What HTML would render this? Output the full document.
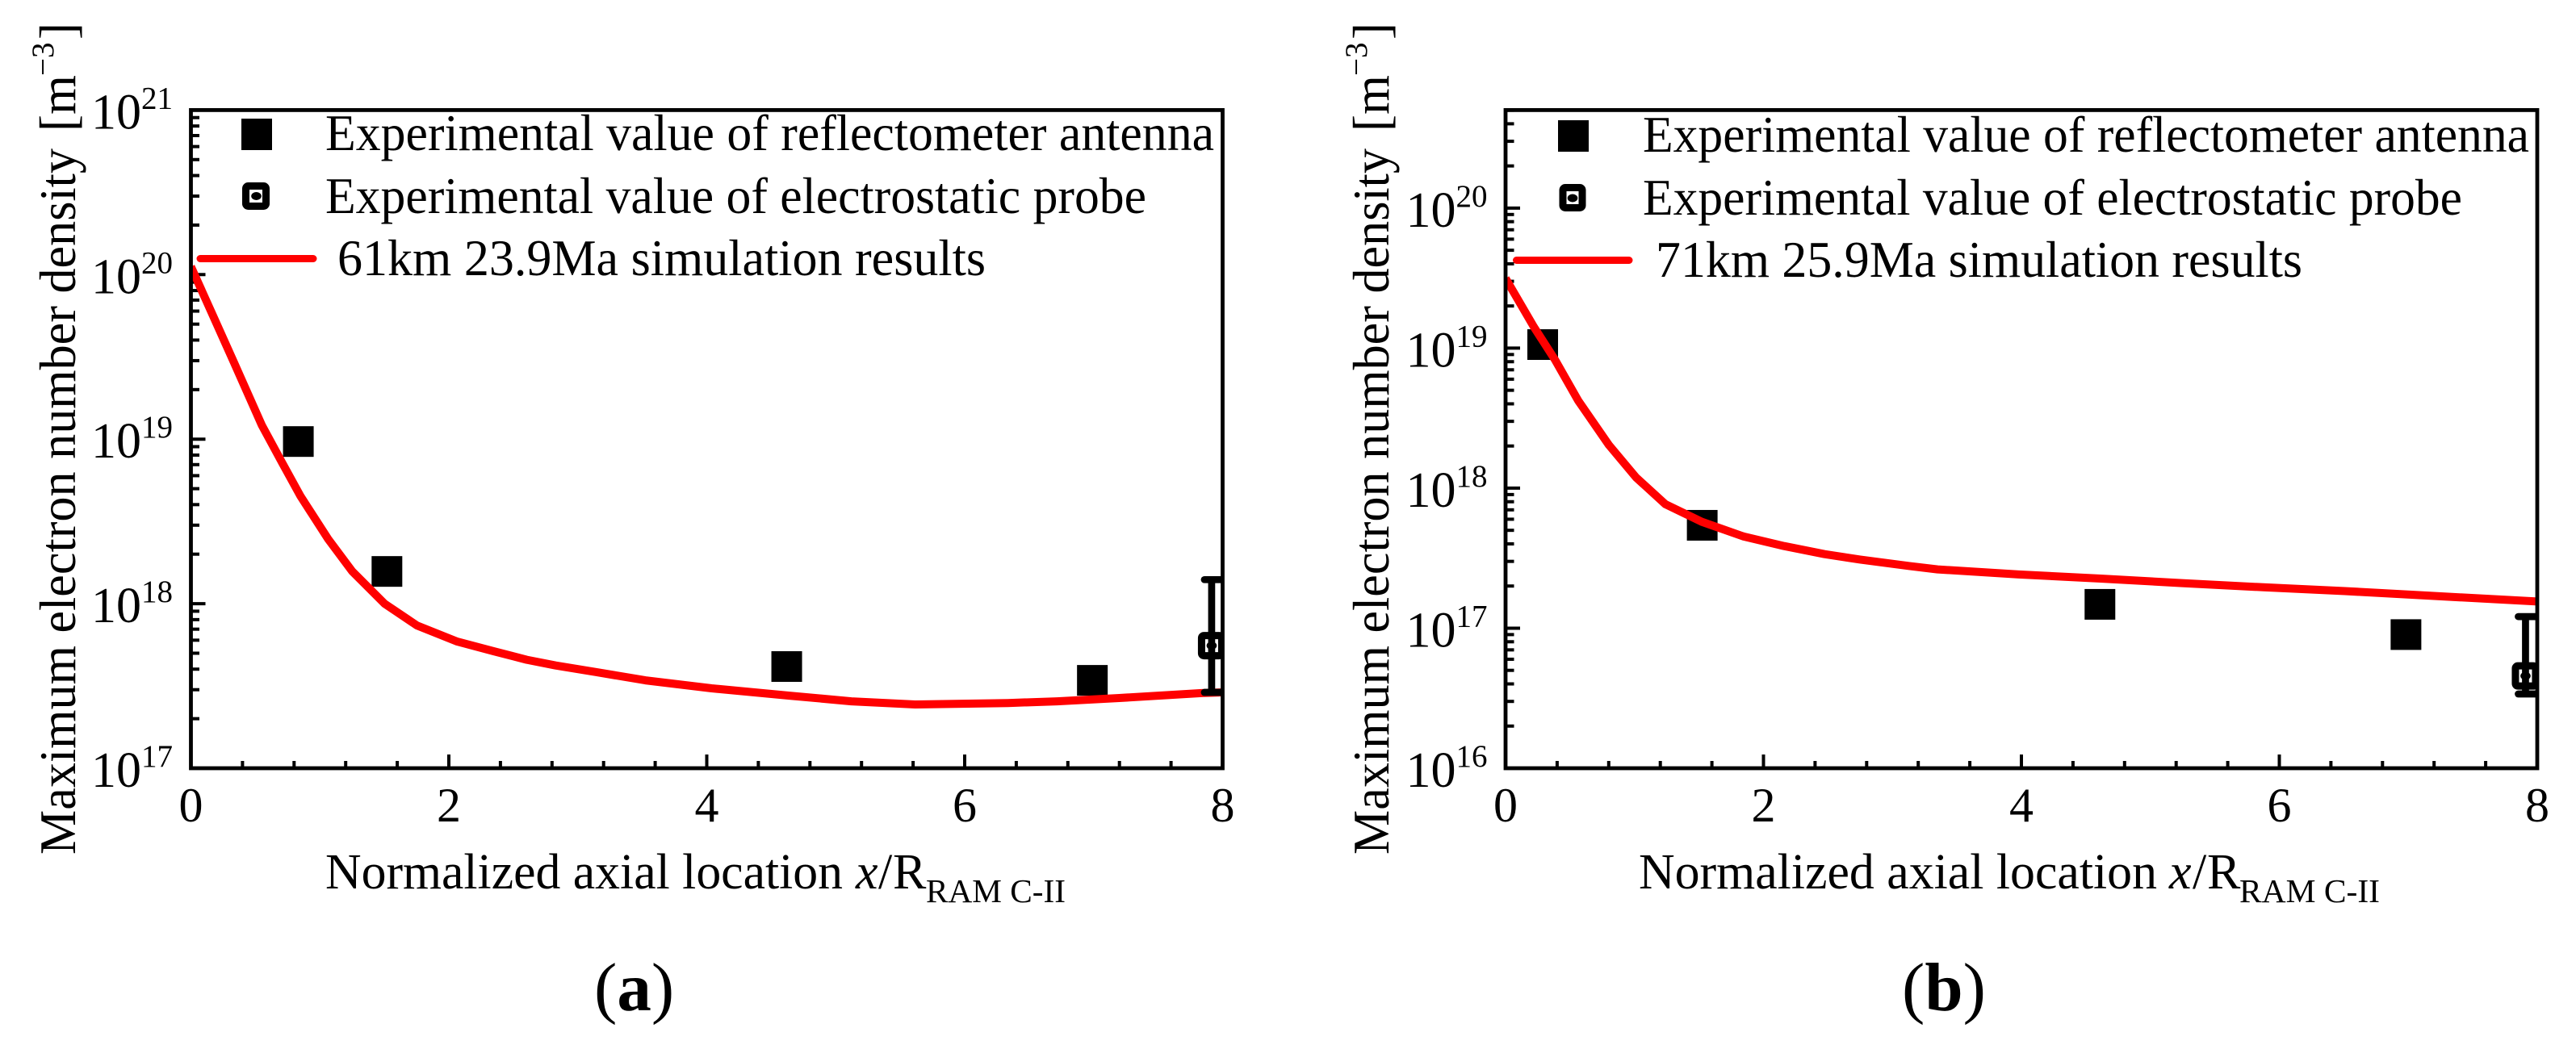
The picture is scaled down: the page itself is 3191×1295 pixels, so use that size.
<!DOCTYPE html>
<html lang="en">
<head>
<meta charset="utf-8">
<title>Maximum electron number density vs normalized axial location</title>
<style>
html,body{margin:0;padding:0;background:#fff;}
svg{display:block;}
text{font-family:"Liberation Serif","Times New Roman",serif;fill:#000;}
</style>
</head>
<body>
<svg id="figure" xmlns="http://www.w3.org/2000/svg" width="3191" height="1295" viewBox="0 0 3191 1295">
  <rect width="3191" height="1295" fill="#fff"/>
  <defs>
    <clipPath id="clip-a"><rect x="236" y="136" width="1279" height="816"/></clipPath>
    <clipPath id="clip-b"><rect x="1865" y="136" width="1278" height="816"/></clipPath>
  </defs>

  <g id="panel-a">
    <g>
      <text transform="translate(93,1059) rotate(-90)" font-size="63" textLength="875" lengthAdjust="spacingAndGlyphs">Maximum electron number density</text>
      <text transform="translate(93,163) rotate(-90)" font-size="63">[m</text>
      <text transform="translate(66,94) rotate(-90)" font-size="39">−3</text>
      <text transform="translate(93,49) rotate(-90)" font-size="63">]</text>
    </g>
    <g>
      <text x="403" y="1101" font-size="62" textLength="641" lengthAdjust="spacingAndGlyphs">Normalized axial location</text>
      <text x="1060" y="1101" font-size="62" font-style="italic">x</text>
      <text x="1088" y="1101" font-size="62">/</text>
      <text x="1106" y="1101" font-size="62">R</text>
      <text x="1147" y="1118" font-size="41" textLength="173" lengthAdjust="spacingAndGlyphs">RAM C-II</text>
    </g>
    <g>
      <rect x="299" y="147" width="38" height="39" fill="#000"/>
      <text x="403" y="186" font-size="63" textLength="1101" lengthAdjust="spacingAndGlyphs">Experimental value of reflectometer antenna</text>
      <rect x="304.5" y="230.5" width="25" height="25" rx="3" fill="#fff" stroke="#000" stroke-width="9"/>
      <ellipse cx="317.5" cy="243" rx="6.3" ry="5" fill="#000"/>
      <text x="403" y="264" font-size="63" textLength="1017" lengthAdjust="spacingAndGlyphs">Experimental value of electrostatic probe</text>
      <line x1="248" y1="320.5" x2="388" y2="320.5" stroke="#f00" stroke-width="9" stroke-linecap="round"/>
      <text x="418" y="341" font-size="63" textLength="803" lengthAdjust="spacingAndGlyphs">61km 23.9Ma simulation results</text>
    </g>
    <text x="736" y="1252" font-size="85">(<tspan font-weight="bold">a</tspan>)</text>
  </g>

  <g id="panel-b">
    <g>
      <text transform="translate(1720,1059) rotate(-90)" font-size="63" textLength="875" lengthAdjust="spacingAndGlyphs">Maximum electron number density</text>
      <text transform="translate(1720,163) rotate(-90)" font-size="63">[m</text>
      <text transform="translate(1693,94) rotate(-90)" font-size="39">−3</text>
      <text transform="translate(1720,49) rotate(-90)" font-size="63">]</text>
    </g>
    <g>
      <text x="2030" y="1101" font-size="62" textLength="642" lengthAdjust="spacingAndGlyphs">Normalized axial location</text>
      <text x="2687" y="1101" font-size="62" font-style="italic">x</text>
      <text x="2716" y="1101" font-size="62">/</text>
      <text x="2734" y="1101" font-size="62">R</text>
      <text x="2774" y="1118" font-size="41" textLength="174" lengthAdjust="spacingAndGlyphs">RAM C-II</text>
    </g>
    <g>
      <rect x="1930" y="149" width="38" height="39" fill="#000"/>
      <text x="2035" y="188" font-size="63" textLength="1098" lengthAdjust="spacingAndGlyphs">Experimental value of reflectometer antenna</text>
      <rect x="1936" y="232.5" width="24" height="25" rx="3" fill="#fff" stroke="#000" stroke-width="9"/>
      <ellipse cx="1948" cy="245.5" rx="6.3" ry="5" fill="#000"/>
      <text x="2035" y="266" font-size="63" textLength="1015" lengthAdjust="spacingAndGlyphs">Experimental value of electrostatic probe</text>
      <line x1="1878.5" y1="322.5" x2="2018" y2="322.5" stroke="#f00" stroke-width="9" stroke-linecap="round"/>
      <text x="2051" y="343" font-size="63" textLength="801" lengthAdjust="spacingAndGlyphs">71km 25.9Ma simulation results</text>
    </g>
    <text x="2356" y="1252" font-size="85">(<tspan font-weight="bold">b</tspan>)</text>
  </g>
</svg>

<script>
const xTickLabels = [0, 2, 4, 6, 8];

const yExponentsA = [21, 20, 19, 18, 17];
const simXA = [0, 0.163, 0.332, 0.551, 0.707, 0.851, 1.064, 1.252, 1.502, 1.753, 2.066, 2.347, 2.604, 2.829, 3.149, 3.524, 4.038, 4.642, 5.121, 5.615, 6.335, 6.717, 7.199, 7.837, 8];
const simYA = [1.12e20, 5.82e19, 2.95e19, 1.21e19, 7.2e18, 4.49e18, 2.47e18, 1.57e18, 1.0e18, 7.37e17, 5.88e17, 5.14e17, 4.56e17, 4.21e17, 3.83e17, 3.42e17, 3.06e17, 2.76e17, 2.55e17, 2.44e17, 2.49e17, 2.55e17, 2.67e17, 2.86e17, 2.89e17];
const reflectXA = [0.833, 1.52, 4.62, 6.99];
const reflectYA = [9.67e18, 1.57e18, 4.15e17, 3.42e17];
const probeXA = [7.915];
const probeYA = [5.56e17];
const probeHighA = [1.4e18];
const probeLowA = [2.89e17];

const yExponentsB = [20, 19, 18, 17, 16];
const simXB = [0, 0.219, 0.386, 0.564, 0.802, 1.013, 1.24, 1.522, 1.847, 2.16, 2.473, 2.749, 3.131, 3.35, 3.98, 4.614, 5.246, 5.877, 6.509, 7.141, 8];
const simYB = [3.15e19, 1.42e19, 8.17e18, 4.21e18, 2.03e18, 1.19e18, 7.67e17, 5.75e17, 4.51e17, 3.86e17, 3.38e17, 3.09e17, 2.78e17, 2.63e17, 2.42e17, 2.26e17, 2.10e17, 1.96e17, 1.84e17, 1.71e17, 1.55e17];
const reflectXB = [0.288, 1.525, 4.609, 6.982];
const reflectYB = [1.06e19, 5.43e17, 1.48e17, 9.0e16];
const probeXB = [7.909];
const probeYB = [4.56e16];
const probeHighB = [1.21e17];
const probeLowB = [3.39e16];

const SVG_NS = 'http://www.w3.org/2000/svg';

function make(tag, attrs, parent) {
  const el = document.createElementNS(SVG_NS, tag);
  for (const k in attrs) el.setAttribute(k, attrs[k]);
  parent.appendChild(el);
  return el;
}

function drawPanel(panelId, clipId, box, yDomainLog, yExponents, simX, simY, reflectX, reflectY, probeX, probeY, probeHigh, probeLow) {
  const panel = document.getElementById(panelId);
  const sx = v => box.left + (v / 8) * (box.right - box.left);
  const sy = v => box.bottom - ((Math.log10(v) - yDomainLog[0]) / (yDomainLog[1] - yDomainLog[0])) * (box.bottom - box.top);

  const ticks = make('g', {stroke: '#000', 'stroke-width': 4}, panel);
  
  

  for (let i = 0; i <= 20; i++) {
    const xv = i * 0.4;
    const isMajor = i % 5 === 0;
    const t = make('line', {x1: sx(xv), x2: sx(xv), y1: box.bottom, y2: box.bottom - (isMajor ? 17 : 9)}, ticks);
    
    
  }

  for (let d = Math.floor(yDomainLog[0]); d < Math.ceil(yDomainLog[1]); d++) {
    for (let m = 2; m <= 9; m++) {
      const lv = d + Math.log10(m);
      if (lv > yDomainLog[1] + 0.001) continue;
      const y = sy(Math.pow(10, lv));
      const t = make('line', {x1: box.left, x2: box.left + 10.5, y1: y, y2: y}, ticks);
      
      
    }
  }

  yExponents.forEach(function (exp) {
    const y = sy(Math.pow(10, exp));
    const t = make('line', {x1: box.left, x2: box.left + 18, y1: y, y2: y}, ticks);
    
    
    const label = make('text', {x: box.left - 123.5, y: y + 23, 'font-size': 62}, panel);
    
    
    label.textContent = '10';
    const sup = make('tspan', {dy: -25, 'font-size': 39}, label);
    sup.textContent = String(exp);
  });

  xTickLabels.forEach(function (v) {
    const label = make('text', {x: sx(v), y: 1018, 'font-size': 60, 'text-anchor': 'middle'}, panel);
    
    
    label.textContent = String(v);
  });

  const plot = make('g', {'clip-path': 'url(#' + clipId + ')'}, panel);
  
  

  reflectX.forEach(function (xv, i) {
    const cx = sx(xv), cy = sy(reflectY[i]);
    const r = make('rect', {x: cx - 19, y: cy - 19, width: 38, height: 38, fill: '#000'}, plot);
    
    
  });

  const d = simX.map((xv, i) => (i ? 'L' : 'M') + sx(xv).toFixed(1) + ' ' + sy(simY[i]).toFixed(1)).join(' ');
  const sim = make('path', {d: d, fill: 'none', stroke: '#f00', 'stroke-width': 10, 'stroke-linejoin': 'round'}, plot);
  
  

  probeX.forEach(function (xv, i) {
    const cx = sx(xv), cy = sy(probeY[i]), hi = sy(probeHigh[i]), lo = sy(probeLow[i]);
    const box2 = make('rect', {x: cx - 12.5, y: cy - 12.5, width: 25, height: 25, rx: 3, fill: '#fff', stroke: '#000', 'stroke-width': 9}, plot);
    
    
    const dot = make('ellipse', {cx: cx, cy: cy, rx: 6.3, ry: 5, fill: '#000'}, plot);
    
    
    const stem = make('line', {x1: cx, x2: cx, y1: hi, y2: lo, stroke: '#000', 'stroke-width': 8.7}, plot);
    
    
    const capHigh = make('line', {x1: cx - 9, x2: cx + 13, y1: hi, y2: hi, stroke: '#000', 'stroke-width': 8.7, 'stroke-linecap': 'round'}, plot);
    
    
    const capLow = make('line', {x1: cx - 9, x2: cx + 13, y1: lo, y2: lo, stroke: '#000', 'stroke-width': 8.7, 'stroke-linecap': 'round'}, plot);
    
    
  });

  const frame = make('rect', {x: box.left, y: box.top, width: box.right - box.left, height: box.bottom - box.top, fill: 'none', stroke: '#000', 'stroke-width': 4.8}, panel);
  
  
}

drawPanel('panel-a', 'clip-a', {left: 236.5, right: 1514.5, top: 136.4, bottom: 952}, [17, 21], yExponentsA,
  simXA, simYA, reflectXA, reflectYA, probeXA, probeYA, probeHighA, probeLowA);

drawPanel('panel-b', 'clip-b', {left: 1865, right: 3143, top: 136.4, bottom: 952}, [16, 20.7], yExponentsB,
  simXB, simYB, reflectXB, reflectYB, probeXB, probeYB, probeHighB, probeLowB);
</script>
</body>
</html>
